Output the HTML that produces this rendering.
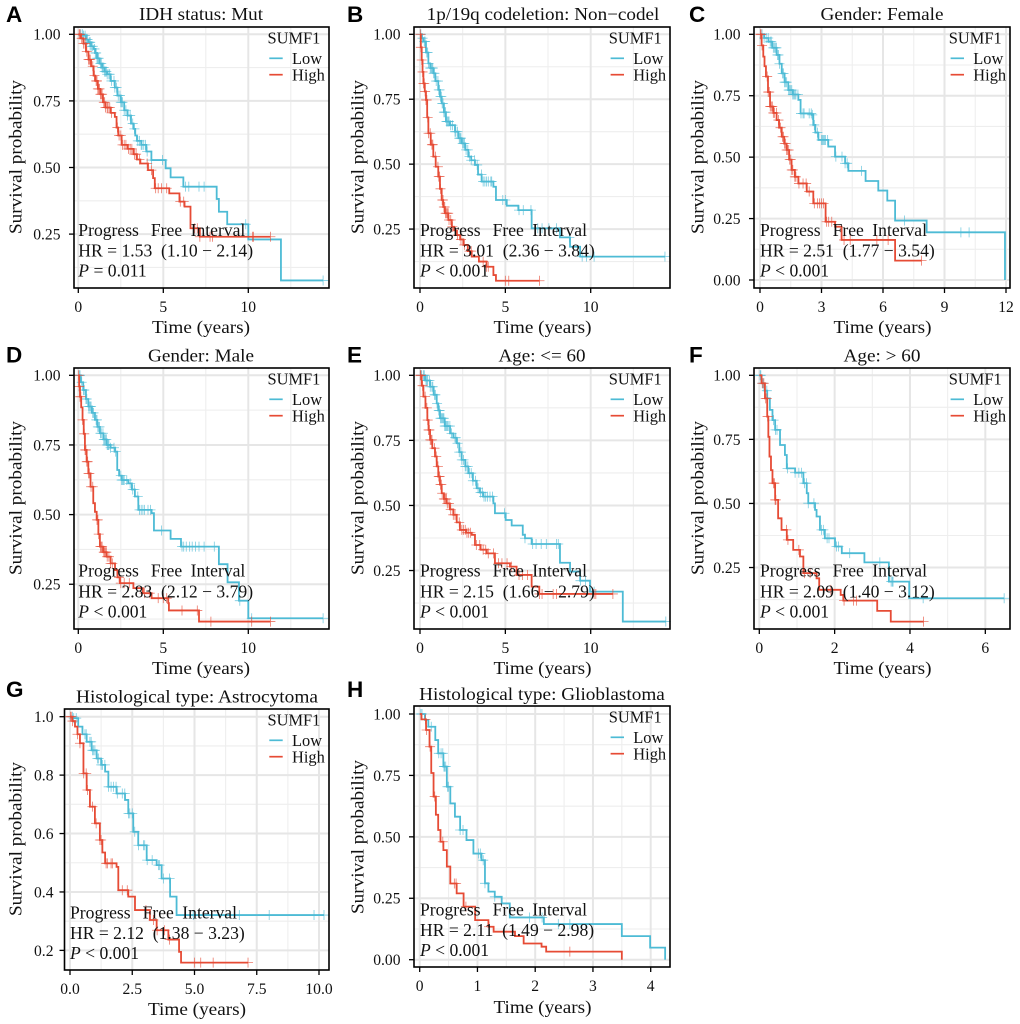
<!DOCTYPE html>
<html lang="en">
<head>
<meta charset="utf-8">
<title>SUMF1 survival curves</title>
<style>
html,body{margin:0;padding:0;background:#fff;}
svg{display:block;}
text{font-family:"Liberation Serif",serif;fill:#111;white-space:pre;}
.letter{font-family:"Liberation Sans",sans-serif;font-weight:700;font-size:22.5px;fill:#000;}
.title{font-size:18px;text-anchor:middle;}
.axt{font-size:18px;text-anchor:middle;}
.leg{font-size:16.4px;}
.ann{font-size:17.6px;}
.tick{font-size:15.6px;}
.border{fill:none;stroke:#000;stroke-width:1.6;}
</style>
</head>
<body>
<svg xmlns="http://www.w3.org/2000/svg" width="1020" height="1024" viewBox="0 0 1020 1024">
<rect width="1020" height="1024" fill="#fff"/>

<g>
<g id="plot-a"></g>
<rect class="border" x="74" y="27" width="255" height="261"/>
<text class="letter" x="6" y="22">A</text>
<text class="title" x="201" y="20" textLength="124" lengthAdjust="spacingAndGlyphs">IDH status: Mut</text>
<text class="axt" x="201" y="333" textLength="98" lengthAdjust="spacingAndGlyphs">Time (years)</text>
<text class="axt" transform="translate(21.7,157) rotate(-90)" textLength="154" lengthAdjust="spacingAndGlyphs">Survival probability</text>
<g transform="translate(0,0)">
<text class="leg" x="267.5" y="43.3">SUMF1</text>
<line x1="269.3" x2="282.7" y1="58.3" y2="58.3" stroke="#4DBBD5" stroke-width="1.7"/>
<text class="leg" x="292" y="64">Low</text>
<line x1="269.3" x2="282.7" y1="74.7" y2="74.7" stroke="#E64B35" stroke-width="1.7"/>
<text class="leg" x="292" y="80.5">High</text>
</g>
<g class="ann" transform="translate(78.3,236)">
<text class="ann" y="0"><tspan x="0">Progress</tspan><tspan x="72.6">Free</tspan><tspan x="112.3">Interval</tspan></text>
<text class="ann" x="0" y="20.7">HR = 1.53  (1.10 − 2.14)</text>
<text class="ann" x="0" y="40.7"><tspan font-style="italic">P</tspan> = 0.011</text>
</g>
</g>

<g>
<g id="plot-b"></g>
<rect class="border" x="414" y="27" width="256" height="261"/>
<text class="letter" x="347" y="22">B</text>
<text class="title" x="543" y="20" textLength="232.7" lengthAdjust="spacingAndGlyphs">1p/19q codeletion: Non−codel</text>
<text class="axt" x="542.5" y="333" textLength="98" lengthAdjust="spacingAndGlyphs">Time (years)</text>
<text class="axt" transform="translate(363.5,157) rotate(-90)" textLength="154" lengthAdjust="spacingAndGlyphs">Survival probability</text>
<g transform="translate(341.3,0)">
<text class="leg" x="267.5" y="43.3">SUMF1</text>
<line x1="269.3" x2="282.7" y1="58.3" y2="58.3" stroke="#4DBBD5" stroke-width="1.7"/>
<text class="leg" x="292" y="64">Low</text>
<line x1="269.3" x2="282.7" y1="74.7" y2="74.7" stroke="#E64B35" stroke-width="1.7"/>
<text class="leg" x="292" y="80.5">High</text>
</g>
<g transform="translate(420,236)">
<text class="ann" y="0"><tspan x="0">Progress</tspan><tspan x="72.6">Free</tspan><tspan x="112.3">Interval</tspan></text>
<text class="ann" x="0" y="20.7">HR = 3.01  (2.36 − 3.84)</text>
<text class="ann" x="0" y="40.7"><tspan font-style="italic">P</tspan> &lt; 0.001</text>
</g>
</g>

<g>
<g id="plot-c"></g>
<rect class="border" x="754" y="27" width="256" height="261"/>
<text class="letter" x="689" y="22">C</text>
<text class="title" x="882" y="20" textLength="123" lengthAdjust="spacingAndGlyphs">Gender: Female</text>
<text class="axt" x="882.5" y="333" textLength="98" lengthAdjust="spacingAndGlyphs">Time (years)</text>
<text class="axt" transform="translate(703.5,157) rotate(-90)" textLength="154" lengthAdjust="spacingAndGlyphs">Survival probability</text>
<g transform="translate(681.3,0)">
<text class="leg" x="267.5" y="43.3">SUMF1</text>
<line x1="269.3" x2="282.7" y1="58.3" y2="58.3" stroke="#4DBBD5" stroke-width="1.7"/>
<text class="leg" x="292" y="64">Low</text>
<line x1="269.3" x2="282.7" y1="74.7" y2="74.7" stroke="#E64B35" stroke-width="1.7"/>
<text class="leg" x="292" y="80.5">High</text>
</g>
<g transform="translate(760,236)">
<text class="ann" y="0"><tspan x="0">Progress</tspan><tspan x="72.6">Free</tspan><tspan x="112.3">Interval</tspan></text>
<text class="ann" x="0" y="20.7">HR = 2.51  (1.77 − 3.54)</text>
<text class="ann" x="0" y="40.7"><tspan font-style="italic">P</tspan> &lt; 0.001</text>
</g>
</g>

<g>
<g id="plot-d"></g>
<rect class="border" x="74" y="368" width="255" height="261"/>
<text class="letter" x="6" y="362.7">D</text>
<text class="title" x="201" y="361.7" textLength="106" lengthAdjust="spacingAndGlyphs">Gender: Male</text>
<text class="axt" x="201" y="674" textLength="98" lengthAdjust="spacingAndGlyphs">Time (years)</text>
<text class="axt" transform="translate(21.7,498) rotate(-90)" textLength="154" lengthAdjust="spacingAndGlyphs">Survival probability</text>
<g transform="translate(0,341)">
<text class="leg" x="267.5" y="43.3">SUMF1</text>
<line x1="269.3" x2="282.7" y1="58.3" y2="58.3" stroke="#4DBBD5" stroke-width="1.7"/>
<text class="leg" x="292" y="64">Low</text>
<line x1="269.3" x2="282.7" y1="74.7" y2="74.7" stroke="#E64B35" stroke-width="1.7"/>
<text class="leg" x="292" y="80.5">High</text>
</g>
<g transform="translate(78.3,576.7)">
<text class="ann" y="0"><tspan x="0">Progress</tspan><tspan x="72.6">Free</tspan><tspan x="112.3">Interval</tspan></text>
<text class="ann" x="0" y="20.7">HR = 2.83  (2.12 − 3.79)</text>
<text class="ann" x="0" y="40.7"><tspan font-style="italic">P</tspan> &lt; 0.001</text>
</g>
</g>

<g>
<g id="plot-e"></g>
<rect class="border" x="414" y="368" width="256" height="261"/>
<text class="letter" x="347" y="362.7">E</text>
<text class="title" x="542" y="361.7" textLength="87" lengthAdjust="spacingAndGlyphs">Age: &lt;= 60</text>
<text class="axt" x="542.5" y="674" textLength="98" lengthAdjust="spacingAndGlyphs">Time (years)</text>
<text class="axt" transform="translate(363.5,498) rotate(-90)" textLength="154" lengthAdjust="spacingAndGlyphs">Survival probability</text>
<g transform="translate(341.3,341)">
<text class="leg" x="267.5" y="43.3">SUMF1</text>
<line x1="269.3" x2="282.7" y1="58.3" y2="58.3" stroke="#4DBBD5" stroke-width="1.7"/>
<text class="leg" x="292" y="64">Low</text>
<line x1="269.3" x2="282.7" y1="74.7" y2="74.7" stroke="#E64B35" stroke-width="1.7"/>
<text class="leg" x="292" y="80.5">High</text>
</g>
<g transform="translate(420,576.7)">
<text class="ann" y="0"><tspan x="0">Progress</tspan><tspan x="72.6">Free</tspan><tspan x="112.3">Interval</tspan></text>
<text class="ann" x="0" y="20.7">HR = 2.15  (1.66 − 2.79)</text>
<text class="ann" x="0" y="40.7"><tspan font-style="italic">P</tspan> &lt; 0.001</text>
</g>
</g>

<g>
<g id="plot-f"></g>
<rect class="border" x="754" y="368" width="256" height="261"/>
<text class="letter" x="689" y="362.7">F</text>
<text class="title" x="882" y="361.7" textLength="77" lengthAdjust="spacingAndGlyphs">Age: &gt; 60</text>
<text class="axt" x="882.5" y="674" textLength="98" lengthAdjust="spacingAndGlyphs">Time (years)</text>
<text class="axt" transform="translate(703.5,498) rotate(-90)" textLength="154" lengthAdjust="spacingAndGlyphs">Survival probability</text>
<g transform="translate(681.3,341)">
<text class="leg" x="267.5" y="43.3">SUMF1</text>
<line x1="269.3" x2="282.7" y1="58.3" y2="58.3" stroke="#4DBBD5" stroke-width="1.7"/>
<text class="leg" x="292" y="64">Low</text>
<line x1="269.3" x2="282.7" y1="74.7" y2="74.7" stroke="#E64B35" stroke-width="1.7"/>
<text class="leg" x="292" y="80.5">High</text>
</g>
<g transform="translate(760,576.7)">
<text class="ann" y="0"><tspan x="0">Progress</tspan><tspan x="72.6">Free</tspan><tspan x="112.3">Interval</tspan></text>
<text class="ann" x="0" y="20.7">HR = 2.09  (1.40 − 3.12)</text>
<text class="ann" x="0" y="40.7"><tspan font-style="italic">P</tspan> &lt; 0.001</text>
</g>
</g>

<g>
<g id="plot-g"></g>
<rect class="border" x="64.5" y="709" width="264.5" height="261"/>
<text class="letter" x="6" y="697">G</text>
<text class="title" x="197" y="702.7" textLength="242" lengthAdjust="spacingAndGlyphs">Histological type: Astrocytoma</text>
<text class="axt" x="197" y="1015" textLength="98" lengthAdjust="spacingAndGlyphs">Time (years)</text>
<text class="axt" transform="translate(21.7,839) rotate(-90)" textLength="154" lengthAdjust="spacingAndGlyphs">Survival probability</text>
<g transform="translate(0,682)">
<text class="leg" x="267.5" y="43.3">SUMF1</text>
<line x1="269.3" x2="282.7" y1="58.3" y2="58.3" stroke="#4DBBD5" stroke-width="1.7"/>
<text class="leg" x="292" y="64">Low</text>
<line x1="269.3" x2="282.7" y1="74.7" y2="74.7" stroke="#E64B35" stroke-width="1.7"/>
<text class="leg" x="292" y="80.5">High</text>
</g>
<g transform="translate(70,918.3)">
<text class="ann" y="0"><tspan x="0">Progress</tspan><tspan x="72.6">Free</tspan><tspan x="112.3">Interval</tspan></text>
<text class="ann" x="0" y="20.7">HR = 2.12  (1.38 − 3.23)</text>
<text class="ann" x="0" y="40.7"><tspan font-style="italic">P</tspan> &lt; 0.001</text>
</g>
</g>

<g>
<g id="plot-h"></g>
<rect class="border" x="414" y="706" width="256" height="261"/>
<text class="letter" x="347" y="697">H</text>
<text class="title" x="542" y="700" textLength="245.7" lengthAdjust="spacingAndGlyphs">Histological type: Glioblastoma</text>
<text class="axt" x="542.5" y="1013" textLength="98" lengthAdjust="spacingAndGlyphs">Time (years)</text>
<text class="axt" transform="translate(363.5,837) rotate(-90)" textLength="154" lengthAdjust="spacingAndGlyphs">Survival probability</text>
<g transform="translate(341.3,679)">
<text class="leg" x="267.5" y="43.3">SUMF1</text>
<line x1="269.3" x2="282.7" y1="58.3" y2="58.3" stroke="#4DBBD5" stroke-width="1.7"/>
<text class="leg" x="292" y="64">Low</text>
<line x1="269.3" x2="282.7" y1="74.7" y2="74.7" stroke="#E64B35" stroke-width="1.7"/>
<text class="leg" x="292" y="80.5">High</text>
</g>
<g transform="translate(420,915.3)">
<text class="ann" y="0"><tspan x="0">Progress</tspan><tspan x="72.6">Free</tspan><tspan x="112.3">Interval</tspan></text>
<text class="ann" x="0" y="20.7">HR = 2.11  (1.49 − 2.98)</text>
<text class="ann" x="0" y="40.7"><tspan font-style="italic">P</tspan> &lt; 0.001</text>
</g>
</g>
</svg>

<script>
// ---- Tick labels ----
const xTicksAB = [0, 5, 10];
const xTicksC = [0, 3, 6, 9, 12];
const xTicksF = [0, 2, 4, 6];
const xTicksG = [0, 2.5, 5, 7.5, 10];
const xTicksH = [0, 1, 2, 3, 4];
const yTicksQuarter = [0.25, 0.5, 0.75, 1];
const yTicksFull = [0, 0.25, 0.5, 0.75, 1];
const yTicksG = [0.2, 0.4, 0.6, 0.8, 1];

// ---- Panel A: IDH status Mut ----
const aLowTime = [0,.3,.45,.6,.75,.9,1.0,1.1,1.25,1.4,1.55,1.7,1.9,2.15,2.3,2.5,2.7,2.9,3.1,3.25,3.35,3.45,3.7,4.0,4.3,5.14,5.43,6.18,8.14,8.27,8.76,10,11.92];
const aLowSurv = [1,.995,.98,.97,.955,.945,.93,.91,.89,.875,.86,.85,.825,.80,.77,.745,.715,.695,.665,.645,.62,.60,.585,.56,.528,.497,.463,.428,.382,.334,.287,.23,.076];
const aLowCens = [.15,.25,.3,.4,.5,.55,.65,.7,.75,.85,.95,1.0,1.05,1.1,1.15,1.2,1.3,1.35,1.4,1.45,1.5,1.55,1.6,1.65,1.7,1.8,1.85,1.95,2.1,2.15,2.25,2.35,2.45,2.5,2.55,2.6,2.7,2.8,2.9,3.05,3.2,3.3,3.5,3.6,3.7,3.75,3.85,3.95,4.05,4.3,4.95,6.3,6.5,7.1,7.4,9.85,14.4];
const aHighTime = [0,.15,.3,.45,.6,.75,.9,1.0,1.15,1.3,1.45,1.6,1.9,2.15,2.25,2.35,2.55,2.9,3.25,3.45,3.65,4.1,4.4,4.5,5.35,5.95,6.25,6.6,7.15];
const aHighSurv = [1,.985,.965,.935,.905,.88,.845,.825,.795,.775,.745,.725,.705,.69,.65,.62,.585,.57,.55,.53,.515,.49,.46,.422,.403,.372,.353,.272,.24];
const aHighCens = [.05,.1,.2,.3,.4,.5,.6,.65,.7,.85,.95,1.05,1.1,1.15,1.2,1.25,1.3,1.35,1.4,1.5,1.55,1.6,1.7,1.75,1.85,1.95,2.3,2.4,2.5,2.6,2.7,2.8,2.95,3.05,3.15,3.3,3.4,3.6,4.05,4.3,4.55,4.7,4.9,5.2,6.0,6.2,6.85,7.0,7.15,7.75,7.9,10.25,10.3,11.3];

// ---- Panel B: 1p/19q Non-codel ----
const bLowTime = [0,.1,.2,.35,.49,.6,.78,.9,1.07,1.17,1.27,1.4,1.52,1.75,2.05,2.25,2.44,2.65,2.83,3.0,3.22,3.4,3.61,4.3,4.45,5.08,5.76,6.54,8.2,8.79,9.38];
const bLowSurv = [1,.985,.972,.93,.888,.87,.85,.82,.786,.76,.734,.70,.664,.65,.625,.60,.58,.555,.529,.515,.497,.46,.433,.413,.362,.34,.323,.253,.218,.182,.144];
const bLowCens = [.05,.15,.25,.3,.4,.45,.5,.6,.65,.7,.75,.8,.85,.95,1.05,1.1,1.15,1.2,1.25,1.3,1.35,1.4,1.45,1.5,1.55,1.6,1.65,1.7,1.8,1.9,2.05,2.1,2.2,2.3,2.35,2.4,2.5,2.55,2.6,2.7,2.8,2.9,3.0,3.2,3.35,3.6,3.7,3.8,3.9,4.0,4.15,4.2,4.85,5.0,5.8,6.05,6.5,6.9,7.15,7.55,8.0,8.75,9.5,9.75,10.2,14.35];
const bHighTime = [0,.05,.1,.15,.2,.28,.35,.42,.49,.63,.78,.92,1.07,1.17,1.27,1.36,1.46,1.66,1.86,2.0,2.15,2.35,2.54,2.8,3.03,3.45,3.9,4.3,4.45];
const bHighSurv = [1,.95,.901,.855,.811,.78,.747,.68,.619,.575,.529,.49,.452,.405,.362,.335,.311,.285,.259,.245,.227,.21,.189,.165,.144,.125,.105,.073,.051];
const bHighCens = [.02,.05,.1,.15,.2,.25,.3,.35,.4,.45,.5,.6,.7,.75,.9,1.05,1.1,1.15,1.2,1.3,1.35,1.4,1.45,1.5,1.55,1.6,1.65,1.7,1.8,1.9,2.2,2.4,2.6,2.9,3.0,3.7,3.9,4.0,5.0,5.2,7.0];

// ---- Panel C: Gender Female ----
const cLowTime = [0,.2,.41,.6,.81,.95,1.06,1.2,1.38,1.6,1.87,1.98,2.52,2.6,2.7,2.85,3.33,3.66,4.15,4.31,5.15,5.77,6.21,6.59,8.13,11.95];
const cLowSurv = [1,.985,.97,.945,.916,.88,.841,.805,.773,.755,.733,.678,.672,.631,.60,.57,.543,.502,.475,.444,.403,.364,.323,.242,.194,0];
const cLowCens = [.1,.2,.3,.4,.5,.55,.65,.7,.75,.8,.85,.9,.95,1.1,1.15,1.2,1.25,1.3,1.4,1.45,1.5,1.55,1.6,1.65,1.7,1.75,1.85,2.0,2.1,2.15,2.4,2.5,2.55,2.65,2.8,3.0,3.05,3.1,3.15,3.2,3.3,3.7,4.0,4.15,4.25,4.95,7.05,9.8,10.2];
const cHighTime = [0,.08,.16,.22,.29,.39,.49,.65,.81,.93,1.06,1.18,1.3,1.42,1.54,1.7,1.87,2.28,2.6,3.2,3.66,3.98,6.59];
const cHighSurv = [1,.955,.909,.87,.828,.765,.706,.68,.651,.62,.583,.555,.529,.49,.448,.42,.393,.36,.312,.237,.217,.163,.079];
const cHighCens = [.02,.05,.1,.35,.4,.45,.5,.55,.6,.65,.7,.8,.9,1.0,1.1,1.15,1.2,1.25,1.3,1.35,1.4,1.45,1.5,1.55,1.6,1.7,1.75,1.9,2.1,2.25,2.4,2.65,2.8,2.9,3.0,3.1,3.25,3.35,3.5,4.1,4.4,5.7,6.25,7.88];

// ---- Panel D: Gender Male ----
const dLowTime = [0,.15,.29,.45,.59,.8,.98,1.12,1.27,1.47,1.67,1.9,2.16,2.29,2.4,2.55,2.94,3.15,3.33,3.53,4.31,4.45,5.43,6.04,8.27,8.78,9.45,10];
const dLowSurv = [1,.975,.947,.915,.888,.865,.84,.815,.792,.77,.75,.74,.726,.66,.64,.624,.612,.59,.565,.517,.505,.443,.413,.385,.322,.257,.191,.128];
const dLowCens = [.05,.1,.2,.3,.35,.45,.5,.6,.65,.7,.75,.85,.9,1.05,1.1,1.15,1.2,1.25,1.3,1.35,1.45,1.5,1.55,1.6,1.65,1.7,1.75,1.8,1.9,2.1,2.2,2.5,2.55,2.6,2.65,2.7,2.85,3.05,3.2,3.3,3.5,3.6,3.7,3.8,3.9,4.1,4.25,4.9,6.1,6.2,6.35,6.55,6.7,6.9,7.1,7.4,8.0,9.5,10.2,14.4];
const dHighTime = [0,.05,.1,.17,.25,.32,.39,.49,.59,.72,.88,.98,1.08,1.18,1.27,1.47,1.67,1.9,2.16,2.3,2.45,3.24,3.8,4.31,5.29,5.33,7.1];
const dHighSurv = [1,.96,.923,.885,.84,.79,.732,.69,.648,.6,.541,.51,.481,.43,.385,.365,.349,.325,.301,.275,.254,.236,.218,.2,.182,.156,.116];
const dHighCens = [.02,.05,.1,.15,.25,.35,.4,.45,.5,.55,.6,.65,.75,.85,1.1,1.15,1.2,1.3,1.35,1.4,1.5,1.55,1.6,1.65,1.7,1.8,1.9,2.0,2.4,2.5,2.7,3.0,3.9,4.2,4.7,5.0,5.2,6.1,7.0,7.8,10.2,11.3];

// ---- Panel E: Age <= 60 ----
const eLowTime = [0,.3,.59,.8,.98,1.07,1.17,1.45,1.76,1.95,2.15,2.3,2.44,2.65,2.83,3.1,3.32,3.5,3.71,4.3,4.39,5.02,5.37,6.02,6.15,6.54,8.2,8.79,9.38,9.96,11.88];
const eLowSurv = [1,.98,.956,.925,.892,.865,.835,.805,.777,.76,.739,.705,.675,.65,.624,.595,.566,.55,.534,.508,.47,.444,.423,.387,.374,.352,.28,.246,.211,.169,.054];
const eLowCens = [.05,.1,.2,.25,.35,.4,.45,.55,.6,.7,.75,.85,.9,1.0,1.1,1.15,1.2,1.25,1.3,1.35,1.4,1.45,1.5,1.55,1.6,1.65,1.75,1.85,2.05,2.1,2.2,2.3,2.4,2.45,2.55,2.65,2.7,2.8,2.9,3.0,3.1,3.25,3.4,3.55,3.65,3.75,3.85,3.95,4.1,4.25,4.95,6.15,6.6,6.8,7.1,7.4,8.0,8.1,9.4,9.7,10.2,14.4];
const eHighTime = [0,.1,.2,.32,.43,.5,.59,.72,.88,.98,1.07,1.17,1.27,1.4,1.56,1.75,1.95,2.15,2.34,2.7,3.03,3.22,3.55,3.91,4.39,5.27,5.66,6.54,6.99];
const eHighSurv = [1,.96,.918,.875,.828,.79,.752,.72,.688,.65,.611,.58,.547,.525,.508,.485,.464,.435,.406,.395,.387,.348,.33,.316,.278,.265,.233,.188,.16];
const eHighCens = [.02,.05,.15,.3,.4,.45,.5,.55,.6,.65,.7,.85,.95,1.05,1.1,1.15,1.2,1.25,1.3,1.4,1.45,1.5,1.55,1.6,1.7,1.8,1.95,2.05,2.3,2.45,2.55,2.65,2.75,2.85,2.95,3.3,3.5,3.7,3.85,4.0,4.3,4.6,4.8,5.1,5.35,5.8,6.0,6.3,7.0,7.15,7.8,8.0,10.2,10.3,11.3];

// ---- Panel F: Age > 60 ----
const fLowTime = [0,.06,.14,.21,.28,.35,.42,.55,.68,.73,.95,1.17,1.26,1.3,1.48,1.52,1.61,1.74,2.01,2.19,2.79,3.44,3.98];
const fLowSurv = [1,.969,.94,.91,.865,.825,.787,.728,.689,.637,.62,.579,.54,.501,.475,.449,.397,.364,.332,.306,.27,.195,.13];
const fLowCens = [.02,.04,.08,.1,.2,.38,.43,.47,.75,.95,1.05,1.12,1.2,1.25,1.3,1.45,1.65,1.7,1.8,1.85,2.05,2.1,2.4,3.2,3.5,3.53,3.55,4.35,6.5];
const fHighTime = [0,.06,.15,.21,.24,.27,.31,.35,.42,.5,.59,.73,.9,1.08,1.17,1.52,1.59,2.16,2.23,3.13,3.49];
const fHighSurv = [1,.969,.91,.839,.76,.683,.63,.579,.514,.442,.397,.358,.319,.293,.228,.208,.163,.143,.121,.081,.039];
const fHighCens = [.08,.12,.17,.2,.22,.38,.4,.42,.44,.72,.76,1.05,1.2,1.35,1.9,2.25,2.5,2.58,4.36];

// ---- Panel G: Astrocytoma ----
const gLowTime = [0,.11,.33,.5,.67,.87,1.07,1.25,1.41,1.54,1.87,2.21,2.34,2.54,2.74,3.08,3.48,3.68,4.02,4.28];
const gLowSurv = [1,.995,.966,.94,.914,.885,.857,.835,.812,.76,.737,.715,.669,.606,.56,.509,.492,.446,.384,.321];
const gLowCens = [.1,.15,.25,.6,.65,.8,.85,.9,.95,1.0,1.1,1.15,1.25,1.3,1.4,1.55,1.65,1.75,1.85,1.9,2.1,2.2,2.35,2.4,2.5,2.6,2.75,2.95,3.0,3.1,3.3,3.55,3.6,3.75,4.0,4.95,6.8,8.0,9.8,10.2];
const gHighTime = [0,.1,.2,.3,.4,.54,.67,.8,1.0,1.2,1.3,1.41,1.87,1.94,2.34,2.61,3.21,3.48,3.95,4.38,4.46];
const gHighSurv = [1,.985,.966,.94,.909,.806,.749,.692,.635,.578,.535,.498,.486,.406,.384,.338,.304,.269,.237,.195,.158];
const gHighCens = [.02,.05,.1,.3,.4,.55,.65,.7,.9,1.05,1.2,1.25,1.45,1.5,1.65,1.7,2.1,2.3,3.05,3.35,3.5,3.8,4.0,5.0,5.25,5.75,7.15];

// ---- Panel H: Glioblastoma ----
const hLowTime = [0,.09,.15,.27,.32,.41,.47,.53,.61,.7,.81,.93,1.07,1.13,1.19,1.3,1.42,1.56,2.15,3.5,3.99,4.25];
const hLowSurv = [1,.976,.948,.894,.84,.786,.704,.636,.582,.528,.487,.432,.405,.311,.277,.256,.229,.172,.145,.096,.049,0];
const hLowCens = [.02,.04,.2,.33,.37,.4,.42,.43,.45,.48,.5,.7,.75,1.02,1.05,1.1,1.13,1.3,1.9,2.12,2.4,2.6];
const hHighTime = [0,.03,.11,.17,.2,.24,.28,.32,.36,.41,.47,.53,.64,.76,.96,1.19,1.28,1.65,1.8,2.11,2.19,3.5];
const hHighSurv = [1,.978,.935,.867,.76,.664,.59,.528,.48,.446,.379,.31,.27,.216,.161,.134,.114,.096,.066,.053,.033,0];
const hHighCens = [.1,.12,.18,.26,.4,.6,.63,.8,1.2,2.6];

const COLOR_LOW = '#4DBBD5';
const COLOR_HIGH = '#E64B35';
const SVGNS = 'http://www.w3.org/2000/svg';

// Axis calibration for each panel (pixels): origin of x, pixels per year, y at S=1, pixels per unit S.
const panels = [
  {id:'a',box:[74,329,27,288],x0:78.3,xs:17,y1:34.3,ys:266.4,lg:13.5,xt:xTicksAB,yt:yTicksQuarter,xd:0,yd:2,low:[aLowTime,aLowSurv,aLowCens],high:[aHighTime,aHighSurv,aHighCens]},
  {id:'b',box:[414,670,27,288],x0:420,xs:17.07,y1:34.3,ys:259.7,lg:13.5,xt:xTicksAB,yt:yTicksQuarter,xd:0,yd:2,low:[bLowTime,bLowSurv,bLowCens],high:[bHighTime,bHighSurv,bHighCens]},
  {id:'c',box:[754,1010,27,288],x0:760,xs:20.5,y1:34.3,ys:245.7,lg:13.5,xt:xTicksC,yt:yTicksFull,xd:0,yd:2,low:[cLowTime,cLowSurv,cLowCens],high:[cHighTime,cHighSurv,cHighCens]},
  {id:'d',box:[74,329,368,629],x0:78.3,xs:17,y1:375.3,ys:278.6,lg:13.5,xt:xTicksAB,yt:yTicksQuarter,xd:0,yd:2,low:[dLowTime,dLowSurv,dLowCens],high:[dHighTime,dHighSurv,dHighCens]},
  {id:'e',box:[414,670,368,629],x0:420,xs:17.07,y1:375.3,ys:260.3,lg:13.5,xt:xTicksAB,yt:yTicksQuarter,xd:0,yd:2,low:[eLowTime,eLowSurv,eLowCens],high:[eHighTime,eHighSurv,eHighCens]},
  {id:'f',box:[754,1010,368,629],x0:759.3,xs:37.67,y1:375.3,ys:256.3,lg:13.5,xt:xTicksF,yt:yTicksQuarter,xd:0,yd:2,low:[fLowTime,fLowSurv,fLowCens],high:[fHighTime,fHighSurv,fHighCens]},
  {id:'g',box:[64.5,329,709,970],x0:70,xs:24.9,y1:716.7,ys:292.1,lg:11,xt:xTicksG,yt:yTicksG,xd:1,yd:1,low:[gLowTime,gLowSurv,gLowCens],high:[gHighTime,gHighSurv,gHighCens]},
  {id:'h',box:[414,670,706,967],x0:419.7,xs:57.75,y1:714,ys:245.7,lg:13.5,xt:xTicksH,yt:yTicksFull,xd:0,yd:2,low:[hLowTime,hLowSurv,hLowCens],high:[hHighTime,hHighSurv,hHighCens]}
];

function svgEl(tag, parent) {
  const el = document.createElementNS(SVGNS, tag);
  parent.appendChild(el);
  return el;
}
function setLine(el, x1, y1, x2, y2, stroke, width) {
  el.setAttribute('x1', x1.toFixed(2));
  el.setAttribute('y1', y1.toFixed(2));
  el.setAttribute('x2', x2.toFixed(2));
  el.setAttribute('y2', y2.toFixed(2));
  el.setAttribute('stroke', stroke);
  el.setAttribute('stroke-width', width);
}
function survAt(times, surv, t) {
  let s = 1;
  for (let i = 0; i < times.length; i++) { if (times[i] <= t) s = surv[i]; }
  return s;
}
function drawGrid(g, p, xScale, yScale) {
  const [l, r, t, b] = p.box;
  const xStep = p.xt[1] - p.xt[0];
  const yStep = p.yt[1] - p.yt[0];
  for (let v = p.xt[0] - xStep / 2; xScale(v) < r; v += xStep) {
    if (xScale(v) <= l) continue;
    const ln = svgEl('line', g);
    
    
    setLine(ln, xScale(v), t, xScale(v), b, '#eeeeee', 1.1);
  }
  for (let v = p.yt[0] - yStep / 2; yScale(v) > t; v += yStep) {
    if (yScale(v) >= b) continue;
    const ln = svgEl('line', g);
    
    
    setLine(ln, l, yScale(v), r, yScale(v), '#eeeeee', 1.1);
  }
  p.xt.forEach(function (v) {
    const ln = svgEl('line', g);
    
    
    setLine(ln, xScale(v), t, xScale(v), b, '#e6e6e6', 2);
  });
  p.yt.forEach(function (v) {
    const ln = svgEl('line', g);
    
    
    setLine(ln, l, yScale(v), r, yScale(v), '#e6e6e6', 2);
  });
}
function drawAxes(g, p, xScale, yScale) {
  const [l, , , b] = p.box;
  p.xt.forEach(function (v) {
    const tk = svgEl('line', g);
    
    
    setLine(tk, xScale(v), b, xScale(v), b + 5, '#000', 1.3);
    const lb = svgEl('text', g);
    
    
    lb.setAttribute('class', 'tick');
    lb.setAttribute('x', xScale(v).toFixed(2));
    lb.setAttribute('y', b + 24);
    lb.setAttribute('text-anchor', 'middle');
    lb.textContent = v.toFixed(p.xd);
  });
  p.yt.forEach(function (v) {
    const tk = svgEl('line', g);
    
    
    setLine(tk, l - 5, yScale(v), l, yScale(v), '#000', 1.3);
    const lb = svgEl('text', g);
    
    
    lb.setAttribute('class', 'tick');
    lb.setAttribute('x', l - p.lg);
    lb.setAttribute('y', (yScale(v) + 5.4).toFixed(2));
    lb.setAttribute('text-anchor', 'end');
    lb.textContent = v.toFixed(p.yd);
  });
}
function drawSeries(g, series, color, label, xScale, yScale) {
  const times = series[0], surv = series[1], cens = series[2];
  const end = Math.max(times[times.length - 1], cens.length ? cens[cens.length - 1] : 0);
  let d = 'M' + xScale(0).toFixed(2) + ' ' + yScale(1).toFixed(2);
  for (let i = 0; i < times.length; i++) {
    d += 'H' + xScale(times[i]).toFixed(2) + 'V' + yScale(surv[i]).toFixed(2);
  }
  d += 'H' + xScale(end).toFixed(2);
  cens.forEach(function (t) {
    const cx = xScale(t), cy = yScale(survAt(times, surv, t));
    const mark = svgEl('path', g);
    
    
    mark.setAttribute('d', 'M' + (cx - 5).toFixed(2) + ' ' + cy.toFixed(2) + 'H' + (cx + 5).toFixed(2) + 'M' + cx.toFixed(2) + ' ' + (cy - 5).toFixed(2) + 'V' + (cy + 5).toFixed(2));
    mark.setAttribute('fill', 'none');
    mark.setAttribute('stroke', color);
    mark.setAttribute('stroke-width', '0.8');
    mark.setAttribute('stroke-opacity', '0.75');
  });
  const curve = svgEl('path', g);
  
  
  curve.setAttribute('d', d);
  curve.setAttribute('fill', 'none');
  curve.setAttribute('stroke', color);
  curve.setAttribute('stroke-width', '1.8');
}
panels.forEach(function (p) {
  const g = document.getElementById('plot-' + p.id);
  const xScale = function (v) { return p.x0 + v * p.xs; };
  const yScale = function (v) { return p.y1 + (1 - v) * p.ys; };
  drawGrid(g, p, xScale, yScale);
  drawAxes(g, p, xScale, yScale);
  drawSeries(g, p.low, COLOR_LOW, 'low', xScale, yScale);
  drawSeries(g, p.high, COLOR_HIGH, 'high', xScale, yScale);
});
</script>
</body>
</html>
